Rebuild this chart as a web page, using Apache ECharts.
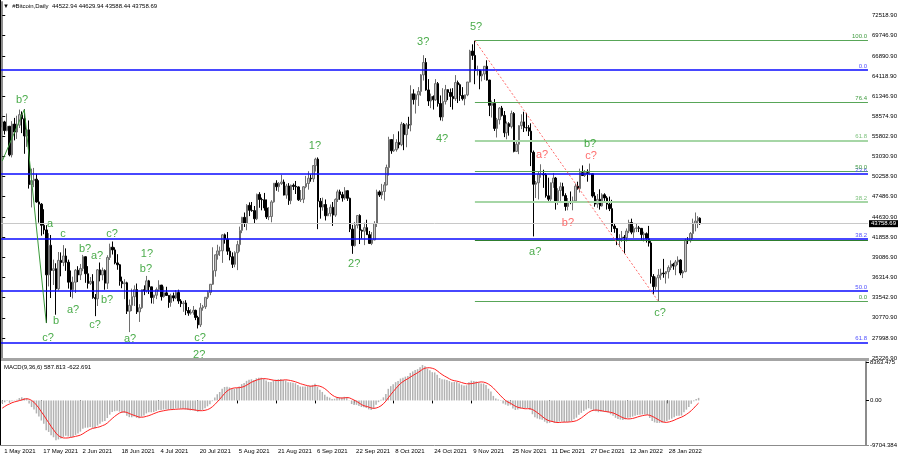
<!DOCTYPE html>
<html><head><meta charset="utf-8">
<script src="https://cdn.jsdelivr.net/npm/echarts@6/dist/echarts.min.js"></script>
<style>html,body{margin:0;padding:0;background:#fff}#c{width:900px;height:459px}</style>
</head><body><div id="c"></div>
<script>
// ---- Daily OHLC rows [open, high, low, close] ----
const may21 = [
[57750,58450,57050,57800],[57800,57950,56050,56600],[56600,58950,56500,57200],[57200,57200,53050,53250],
[53250,57900,52900,57500],[57500,58350,55250,56400],[56400,58650,55450,57350],[57350,59500,56950,58800],
[58800,59250,56250,58230],[58230,59550,53400,55860],[55860,56850,54350,56700],[56700,58000,48600,49150],
[49150,51350,46000,49700],[49700,51450,48800,49900],[49900,50650,46650,46760],[46760,49750,43900,46450],
[46450,46600,42100,43540],[43540,45750,42300,42900],[42900,43550,30050,36700],[36700,42450,35100,40780],
[40780,42200,33500,37300],[37300,38800,35300,37540],[37540,38300,31200,34770],[34770,39850,34550,38700],
[38700,39800,36500,38400],[38400,40800,37900,39300],[39300,40350,37250,38440],[38440,38800,34800,35690],
[35690,37300,33650,34660],[34660,36450,33450,35680],[35680,37500,34200,37340]];
const jun21 = [
[37340,37890,35700,36690],[36690,38200,35980,37580],[37580,39450,37200,39200],[39200,39250,35600,36850],
[36850,37900,34800,35520],[35520,36400,35300,35800],[35800,36790,33400,33560],[33560,34050,31000,33400],
[33400,37500,32400,37390],[37390,38400,35800,36690],[36690,37700,35950,37310],[37310,37450,34650,35550],
[35550,39400,34750,39100],[39100,41000,38750,40520],[40520,41300,39500,40140],[40140,40500,38150,38350],
[38350,39550,37400,38090],[38090,38200,35200,35820],[35820,36450,34850,35480],[35480,36100,33350,35600],
[35600,35750,31300,31680],[31680,33300,28800,32500],[32500,34800,31700,33680],[33680,35250,32400,34660],
[34660,35500,31300,31590],[31590,32650,30200,32160],[32160,34700,32000,34650],[34650,35250,33900,34490],
[34490,36550,34250,35870],[35870,36000,34050,35040]];
const jul21 = [
[35040,35050,32750,33570],[33570,33950,32700,33890],[33890,34950,33350,34670],[34670,35950,34450,35290],
[35290,35290,33150,33690],[33690,35100,33550,34220],[34220,35050,33800,33860],[33860,33900,32150,32880],
[32880,34100,32300,33810],[33810,34250,33050,33510],[33510,34600,33350,34260],[34260,34650,32700,33090],
[33090,33350,32250,32730],[32730,33100,31600,32820],[32820,33200,31150,31780],[31780,32250,31050,31420],
[31420,31950,31200,31530],[31530,32400,31200,31800],[31800,31900,30450,30820],[30820,31050,29300,29800],
[29800,32800,29500,32140],[32140,32550,31750,32300],[32300,33600,32000,33600],[33600,34450,33350,34260],
[34260,35350,33900,35400],[35400,40500,35300,37270],[37270,39500,36450,39460],[39460,40850,38800,40000],
[40000,40600,39300,40020],[40020,42300,38350,42220],[42220,42400,41000,41630]];
const aug21 = [
[41630,42600,39450,39970],[39970,40450,38700,39200],[39200,39800,37650,38150],[38150,39950,37750,39750],
[39750,41400,37350,40870],[40870,43350,39900,42830],[42830,44700,42450,44630],[44630,45300,43300,43820],
[43820,46450,42850,46290],[46290,46700,44800,45600],[45600,46750,45400,45560],[45560,46200,43800,44430],
[44430,47900,44250,47800],[47800,48100,45950,47090],[47090,47350,45600,47050],[47050,48000,45550,45930],
[45930,47100,44400,44690],[44690,46050,44250,44740],[44740,47000,43950,46760],[46760,49350,46650,49340],
[49340,49750,48300,48860],[48860,49500,48150,49290],[49290,50500,49100,49500],[49500,49850,47650,47700],
[47700,49250,47200,48960],[48960,49350,46350,46940],[46940,49150,46450,49060],[49060,49300,48400,48900],
[48900,49650,47850,48830],[48830,48900,46900,47050],[47050,48400,46750,47130]];
const sep21 = [
[47130,48950,46600,48850],[48850,50350,48650,49300],[49300,51000,48450,50030],[50030,50550,49550,49940],
[49940,51850,49500,51770],[51770,52850,50950,52660],[52660,52900,43000,46860],[46860,47300,44450,46050],
[46050,47350,45550,46400],[46400,47100,44200,44850],[44850,45950,44800,45170],[45170,46400,44750,46020],
[46020,46750,43450,44940],[44940,47250,44700,47100],[47100,48450,46750,48150],[48150,48450,47050,47760],
[47760,48150,46800,47300],[47300,48800,47050,48310],[48310,48350,46900,47260],[47260,47350,42600,43010],
[43010,43600,39600,40730],[40730,44000,40600,43540],[43540,44950,43100,44890],[44890,45050,40950,42840],
[42840,42950,41700,42720],[42720,43900,40800,43210],[43210,44300,42200,42240],[42240,42750,40950,41030],
[41030,42600,40800,41520],[41520,44100,41450,43790]];
const oct21 = [
[43790,48450,43300,48140],[48140,48350,47450,47710],[47710,49250,47150,48200],[48200,49500,46950,49110],
[49110,51900,49050,51510],[51510,55750,50400,55360],[55360,55350,53400,53810],[53810,56100,53650,53970],
[53970,55400,53700,54970],[54970,56500,54150,54660],[54660,57800,54450,57480],[57480,57650,53900,56040],
[56040,57650,54300,57400],[57400,58500,56850,57370],[57370,62850,56500,61670],[61670,62300,60200,60880],
[60880,61700,58950,61530],[61530,62600,60000,62000],[62000,64400,61400,64280],[64280,67000,63500,66000],
[66000,66600,62100,62210],[62210,63700,60000,60690],[60690,61700,59700,61300],[61300,61450,59500,60850],
[60850,63700,60700,63080],[63080,63300,59900,60330],[60330,61450,58000,58480],[58480,62450,57900,60620],
[60620,62900,60200,62250],[62250,62300,60800,61860],[61860,62400,59850,61320]];
const nov21 = [
[61320,62450,59500,61000],[61000,64250,60700,63230],[63230,63500,60400,62930],[62930,63100,60700,61440],
[61440,62600,60750,61000],[61000,61550,60100,61530],[61530,63300,61350,63300],[63300,67750,63250,67570],
[67570,68500,66350,66970],[66970,69000,63000,64880],[64880,65550,64200,64950],[64950,65000,62300,64150],
[64150,64900,63400,64400],[64400,65500,63600,65470],[65470,66300,63500,63570],[63570,63600,58600,60080],
[60080,60750,58400,60340],[60340,60950,56550,56900],[56900,58350,55650,58100],[58100,59850,57450,59700],
[59700,60000,58550,58700],[58700,59300,55700,56300],[56300,57850,55400,57560],[57560,57750,55900,57150],
[57150,59350,56900,58960],[58960,59150,53600,53730],[53730,55300,53650,54720],[54720,57350,53350,57270],
[57270,58850,56800,57800],[57800,59200,56400,57000]];
const dec21 = [
[57000,59050,56500,56990],[56990,57350,55850,56520],[56520,57600,51700,53600],[53600,53850,42000,49200],
[49200,49650,47300,49400],[49400,50950,47100,50580],[50580,51950,50100,50600],[50600,51200,48700,50500],
[50500,50750,47350,47600],[47600,50100,46900,47140],[47140,49450,46800,49390],[49390,50750,48700,50050],
[50050,50200,45700,46700],[46700,48650,46350,48340],[48340,49450,46600,48860],[48860,49400,47550,47630],
[47630,47950,45550,46130],[46130,47300,45600,46830],[46830,48200,46450,46680],[46680,47500,45600,46900],
[46900,49300,46700,48940],[48940,49550,48450,48600],[48600,51350,48050,50800],[50800,51800,50500,50400],
[50400,51150,50200,50800],[50800,51250,49550,50640],[50640,52050,50450,50640],[50640,50650,47350,47580],
[47580,48100,46100,46460],[46460,47850,45950,47120],[47120,48500,45700,46210]];
const jan22 = [
[46210,47950,46100,47740],[47740,47950,46900,47310],[47310,47550,45700,46450],[46450,47500,45500,45830],
[45830,47050,42600,43430],[43430,43750,42500,43080],[43080,43150,40800,41560],[41560,42300,40550,41730],
[41730,42750,41250,41910],[41910,42200,39650,41820],[41820,43100,41300,42740],[42740,44300,42450,43920],
[43920,44450,42300,42590],[42590,43400,41800,43100],[43100,43750,42600,43180],[43180,43450,42600,43110],
[43110,43150,41550,42250],[42250,42650,41300,42380],[42380,42550,41150,41680],[41680,43450,40600,41100],
[41100,41350,35500,36470],[36470,36800,34000,35080],[35080,36450,34650,36280],[36280,37500,33000,36660],
[36660,37550,36000,36950],[36950,38900,36300,36850],[36850,37200,35500,37140],[37140,38000,36200,37710],
[37710,38700,37350,38170],[38170,38350,37400,37920],[37920,38750,36650,38480]];
const feb22 = [
[38480,39250,38050,38740],[38740,38850,36650,36950],[36950,37350,36250,37150],[37150,41700,37050,41500],
[41500,41900,40950,41410],[41410,42600,41150,42400],[42400,44450,41650,43840],[43840,45300,42700,44120],
[44120,44800,43150,44520],[44522.94,44629.94,43588.44,43758.69]];

// closes before the visible window (only used to warm up the MACD averages)
const priorCloses = [49600,48400,50500,48400,48800,48900,51000,52400,54900,55900,57300,57200,61200,59000,55600,56900,
58900,57600,58300,58100,57400,54100,54300,52300,51300,55000,55800,55800,57600,58800,58900,
59000,59100,57100,58200,59100,58000,56000,58100,58100,59800,59900,59800,63500,62900,63200,61400,
60000,56200,55700,56500,53800,51700,51100,50100,49000,54000,55000,54900,53600,57700];

// horizontal levels
const blueLevels = [64940, 50600, 41650, 34450, 27390];
const blueLevelNames = ['0.0', '23.6', '38.2', '50.0', '61.8'];
const fibLevels = [69000, 60530, 55240, 51000, 46750, 41500, 33000];
const fibLevelNames = ['100.0', '76.4', '61.8', '50.0', '38.2', '', '0.0'];
const fibLight = [false, false, true, false, true, false, false];
const lastPrice = 43758.69;

const priceTicks = [72518.90,69746.90,66890.90,64118.90,61346.90,58574.90,55802.90,53030.90,50258.90,
47486.90,44630.90,41858.90,39086.90,36314.90,33542.90,30770.90,27998.90,25226.90];
const macdTicks = [8363.475, 0, -9704.384];

// wave annotations: [day index, price, text, colour key]
const waveLabels = [
[8.1,60800,'b?','g'],[19.5,43700,'a','g'],[24.8,42330,'c','g'],[18.7,27990,'c?','g'],[22.0,30330,'b','g'],
[33.8,40260,'b?','g'],[38.7,39290,'a?','g'],[44.8,42330,'c?','g'],[28.9,31850,'a?','g'],[42.8,33230,'b?','g'],
[37.9,29780,'c?','g'],[59.1,39570,'1?','g'],[58.7,37500,'b?','g'],[52.2,27850,'a?','g'],[80.8,27990,'c?','g'],
[80.4,25640,'2?','g'],[127.7,54460,'1?','g'],[143.7,38190,'2?','g'],[171.9,68800,'3?','g'],[179.6,55430,'4?','g'],
[193.5,70870,'5?','g'],[220.4,53220,'a?','r'],[231.0,43840,'b?','r'],[240.4,53080,'c?','r'],[240.0,54740,'b?','g'],
[217.6,39840,'a?','g'],[268.6,31430,'c?','g']];
// thin trend lines: [[idx,price],[idx,price]]
const greenTrend = [[[0,52400],[9,59500]], [[9,59500],[18,30050]]];
const redTrend = [[193,69000],[268,33000]];
const fibStartIdx = 193;

// ---------------------------------------------------
const rows = [].concat(may21,jun21,jul21,aug21,sep21,oct21,nov21,dec21,jan22,feb22);
const N = rows.length;
const SLOTS = 354;
const MONTHS = ['Jan','Feb','Mar','Apr','May','Jun','Jul','Aug','Sep','Oct','Nov','Dec'];
const categories = [];
for (let i = 0; i < SLOTS; i++) {
  const d = new Date(Date.UTC(2021,4,1) + i*86400000);
  categories.push(d.getUTCDate() + ' ' + MONTHS[d.getUTCMonth()] + ' ' + d.getUTCFullYear());
}
const candleData = rows.map(r => [r[0], r[3], r[2], r[1]]);

// MACD(9,36,6): main = EMA9 - EMA36, signal = SMA6 of main
const allCloses = priorCloses.concat(rows.map(r => r[3]));
function ema(arr, n){ const k = 2/(n+1); const out=[arr[0]]; for(let i=1;i<arr.length;i++) out.push(arr[i]*k + out[i-1]*(1-k)); return out; }
const e9 = ema(allCloses, 9), e36 = ema(allCloses, 36);
const macdAll = allCloses.map((_, i) => e9[i] - e36[i]);
const sigAll = macdAll.map((_, i) => { if (i < 5) return macdAll[i]; let s=0; for (let j=i-5;j<=i;j++) s+=macdAll[j]; return s/6; });
const macdData = macdAll.slice(priorCloses.length);
const signalData = sigAll.slice(priorCloses.length);

const GREEN = '#1b961b', RED = '#ff4848', BLUEC = '#0a0aff';
const FONT = 'Liberation Sans';

const markLines = [];
blueLevels.forEach((v, i) => markLines.push({ yAxis: v, lineStyle: { color: BLUEC, width: 1.6, type: 'solid' },
  label: { show: true, position: 'insideEndTop', formatter: blueLevelNames[i], color: '#5050ff', fontSize: 6, fontFamily: FONT, distance: [1, 1] } }));
fibLevels.forEach((v, i) => markLines.push([
  { coord: [fibStartIdx, v], lineStyle: { color: i === 5 ? '#2e7d2e' : (fibLight[i] ? '#a6d6a6' : '#58a658'), width: fibLight[i] ? 2 : 1, type: 'solid' },
    label: { show: !!fibLevelNames[i], position: 'insideEndTop', formatter: fibLevelNames[i], color: fibLight[i] ? '#7cc07c' : '#3f9a3f', fontSize: 6, fontFamily: FONT, distance: [1, 1] } },
  { coord: [353.5, v] }]));
greenTrend.forEach(seg => markLines.push([{ coord: seg[0], lineStyle: { color: '#3a9a3a', width: 1, type: 'solid' }, label: { show: false } }, { coord: seg[1] }]));
markLines.push([{ coord: redTrend[0], lineStyle: { color: '#ff6a6a', width: 1, type: [2, 2] }, label: { show: false } }, { coord: redTrend[1] }]);

const chart = echarts.init(document.getElementById('c'), null, { renderer: 'canvas' });
chart.setOption({
  animation: false,
  backgroundColor: '#fff',
  grid: [
    { left: 1, top: 2, right: 32, bottom: 101, show: false },
    { left: 1, top: 362, right: 32, bottom: 14, show: false }
  ],
  xAxis: [
    { type: 'category', gridIndex: 0, data: categories, boundaryGap: true, show: false },
    { type: 'category', gridIndex: 1, data: categories, boundaryGap: true,
      axisLine: { show: false },
      axisTick: { show: true, alignWithLabel: true, length: 3, interval: (i) => i % 16 === 0 && i < N, lineStyle: { color: '#000' } },
      axisLabel: { show: true, interval: (i) => i % 16 === 0 && i < N, align: 'left', fontSize: 6, fontFamily: FONT, color: '#000', margin: 3, padding: [0,0,0,2] } },
    { type: 'value', gridIndex: 0, min: -0.5, max: SLOTS - 0.5, show: false }
  ],
  yAxis: [
    { type: 'value', gridIndex: 0, position: 'right', min: 25226.9, max: 74340, scale: true,
      axisLine: { show: true, lineStyle: { color: '#8c8c8c', width: 2 } },
      splitLine: { show: false },
      axisTick: { show: true, length: 3, customValues: priceTicks, lineStyle: { color: '#000' } },
      axisLabel: { show: true, customValues: priceTicks, formatter: v => v.toFixed(2), fontSize: 6, fontFamily: FONT, color: '#000', margin: 4 } },
    { type: 'value', gridIndex: 1, position: 'right', min: -9704.384, max: 8363.475,
      axisLine: { show: true, lineStyle: { color: '#8c8c8c', width: 2 } },
      splitLine: { show: false },
      axisTick: { show: true, length: 3, customValues: macdTicks, lineStyle: { color: '#000' } },
      axisLabel: { show: true, customValues: macdTicks, formatter: v => v === 0 ? '0.00' : v.toFixed(3), fontSize: 6, fontFamily: FONT, color: '#000', margin: 4 } }
  ],
  series: [
    { type: 'candlestick', xAxisIndex: 0, yAxisIndex: 0, data: candleData, barWidth: 2,
      itemStyle: { color: '#c4c4c4', color0: '#000', borderColor: '#6e6e6e', borderColor0: '#000', borderWidth: 1 },
      markLine: { silent: true, symbol: 'none', animation: false,
        data: [{ yAxis: lastPrice, lineStyle: { color: '#c8c8c8', width: 1, type: 'solid' },
          label: { show: true, position: 'end', formatter: lastPrice.toFixed(2), color: '#fff', backgroundColor: '#000', padding: [1, 2, 0, 2], fontSize: 6, fontFamily: FONT, distance: 1 } }] } },
    { type: 'scatter', xAxisIndex: 2, yAxisIndex: 0, symbolSize: 1, itemStyle: { color: 'rgba(0,0,0,0)' }, silent: true, z: 10,
      data: waveLabels.map(w => ({ value: [w[0], w[1]], label: { show: true, position: 'inside', formatter: w[2], color: w[3] === 'r' ? RED : GREEN, fontSize: 11, fontFamily: FONT } })),
      markLine: { silent: true, symbol: 'none', animation: false, data: markLines } },
    { type: 'bar', xAxisIndex: 1, yAxisIndex: 1, data: macdData, barWidth: 1.5, itemStyle: { color: '#b2b2b2' }, silent: true },
    { type: 'line', xAxisIndex: 1, yAxisIndex: 1, data: signalData, symbol: 'none', lineStyle: { color: '#ff2020', width: 1 }, silent: true, z: 5 }
  ],
  graphic: [
    { type: 'text', left: 3, top: 3, style: { text: '\u25BC  #Bitcoin,Daily  44522.94 44629.94 43588.44 43758.69', fontSize: 6, fontFamily: FONT, fill: '#000' } },
    { type: 'text', left: 4, top: 364, style: { text: 'MACD(9,36,6) 587.813 -622.691', fontSize: 6, fontFamily: FONT, fill: '#000' } },
    { type: 'rect', shape: { x: 0, y: 358, width: 869, height: 3 }, style: { fill: '#a4a4a4' }, z: 20 },
    { type: 'line', shape: { x1: 0.5, y1: 0, x2: 0.5, y2: 446 }, style: { stroke: '#000', lineWidth: 1 }, z: 20 },
    { type: 'line', shape: { x1: 0, y1: 445.5, x2: 869, y2: 445.5 }, style: { stroke: '#8c8c8c', lineWidth: 1 }, z: 20 }
  ]
});
</script></body></html>
